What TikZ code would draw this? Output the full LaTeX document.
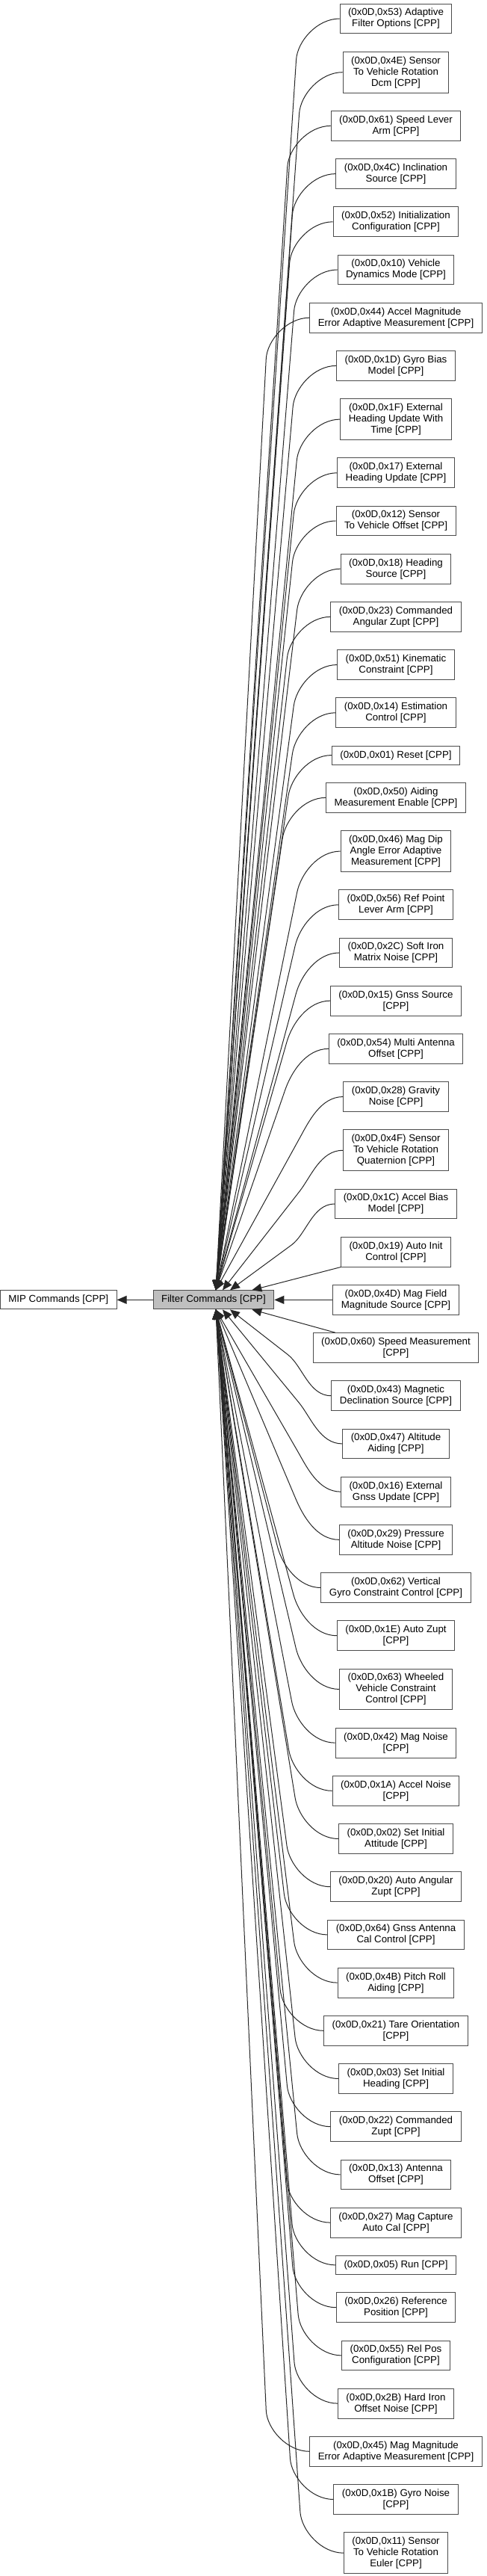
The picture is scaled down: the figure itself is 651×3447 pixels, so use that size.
\documentclass[tikz,border=0pt]{standalone}
\usepackage{fontspec}
\setmainfont{Liberation Sans}
\usetikzlibrary{arrows.meta,positioning,calc}

\begin{document}
\begin{tikzpicture}[x=1pt,y=1pt,node distance=23.4pt,font=\fontsize{13.3}{15}\selectfont,
  box/.style={draw=black!70,line width=1pt,align=center,inner xsep=11pt,inner ysep=6.2pt,minimum height=25pt},
  link/.style={-{Triangle[length=13pt,width=11pt]},line width=1pt,draw=black!85},
  fan/.style={to path={.. controls +(-30,0) and ($($(\tikztostart)+(-58,#1)$)!-25pt!(\tikztotarget)$) .. ($(\tikztostart)+(-58,#1)$) -- (\tikztotarget)}}]
\useasboundingbox (0,0) rectangle (651,-3447);
\node[box] (f53) at (530,-25) {(0x0D,0x53) Adaptive\\Filter Options [CPP]};
\node[box,below=of f53] (f4e) {(0x0D,0x4E) Sensor\\To Vehicle Rotation\\Dcm [CPP]};
\node[box,below=of f4e] (f61) {(0x0D,0x61) Speed Lever\\Arm [CPP]};
\node[box,below=of f61] (f4c) {(0x0D,0x4C) Inclination\\Source [CPP]};
\node[box,below=of f4c] (f52) {(0x0D,0x52) Initialization\\Configuration [CPP]};
\node[box,below=of f52] (f10) {(0x0D,0x10) Vehicle\\Dynamics Mode [CPP]};
\node[box,below=of f10] (f44) {(0x0D,0x44) Accel Magnitude\\Error Adaptive Measurement [CPP]};
\node[box,below=of f44] (f1d) {(0x0D,0x1D) Gyro Bias\\Model [CPP]};
\node[box,below=of f1d] (f1f) {(0x0D,0x1F) External\\Heading Update With\\Time [CPP]};
\node[box,below=of f1f] (f17) {(0x0D,0x17) External\\Heading Update [CPP]};
\node[box,below=of f17] (f12) {(0x0D,0x12) Sensor\\To Vehicle Offset [CPP]};
\node[box,below=of f12] (f18) {(0x0D,0x18) Heading\\Source [CPP]};
\node[box,below=of f18] (f23) {(0x0D,0x23) Commanded\\Angular Zupt [CPP]};
\node[box,below=of f23] (f51) {(0x0D,0x51) Kinematic\\Constraint [CPP]};
\node[box,below=of f51] (f14) {(0x0D,0x14) Estimation\\Control [CPP]};
\node[box,below=of f14] (f01) {(0x0D,0x01) Reset [CPP]};
\node[box,below=of f01] (f50) {(0x0D,0x50) Aiding\\Measurement Enable [CPP]};
\node[box,below=of f50] (f46) {(0x0D,0x46) Mag Dip\\Angle Error Adaptive\\Measurement [CPP]};
\node[box,below=of f46] (f56) {(0x0D,0x56) Ref Point\\Lever Arm [CPP]};
\node[box,below=of f56] (f2c) {(0x0D,0x2C) Soft Iron\\Matrix Noise [CPP]};
\node[box,below=of f2c] (f15) {(0x0D,0x15) Gnss Source\\{[CPP]}};
\node[box,below=of f15] (f54) {(0x0D,0x54) Multi Antenna\\Offset [CPP]};
\node[box,below=of f54] (f28) {(0x0D,0x28) Gravity\\Noise [CPP]};
\node[box,below=of f28] (f4f) {(0x0D,0x4F) Sensor\\To Vehicle Rotation\\Quaternion [CPP]};
\node[box,below=of f4f] (f1c) {(0x0D,0x1C) Accel Bias\\Model [CPP]};
\node[box,below=of f1c] (f19) {(0x0D,0x19) Auto Init\\Control [CPP]};
\node[box,below=of f19] (f4d) {(0x0D,0x4D) Mag Field\\Magnitude Source [CPP]};
\node[box,below=of f4d] (f60) {(0x0D,0x60) Speed Measurement\\{[CPP]}};
\node[box,below=of f60] (f43) {(0x0D,0x43) Magnetic\\Declination Source [CPP]};
\node[box,below=of f43] (f47) {(0x0D,0x47) Altitude\\Aiding [CPP]};
\node[box,below=of f47] (f16) {(0x0D,0x16) External\\Gnss Update [CPP]};
\node[box,below=of f16] (f29) {(0x0D,0x29) Pressure\\Altitude Noise [CPP]};
\node[box,below=of f29] (f62) {(0x0D,0x62) Vertical\\Gyro Constraint Control [CPP]};
\node[box,below=of f62] (f1e) {(0x0D,0x1E) Auto Zupt\\{[CPP]}};
\node[box,below=of f1e] (f63) {(0x0D,0x63) Wheeled\\Vehicle Constraint\\Control [CPP]};
\node[box,below=of f63] (f42) {(0x0D,0x42) Mag Noise\\{[CPP]}};
\node[box,below=of f42] (f1a) {(0x0D,0x1A) Accel Noise\\{[CPP]}};
\node[box,below=of f1a] (f02) {(0x0D,0x02) Set Initial\\Attitude [CPP]};
\node[box,below=of f02] (f20) {(0x0D,0x20) Auto Angular\\Zupt [CPP]};
\node[box,below=of f20] (f64) {(0x0D,0x64) Gnss Antenna\\Cal Control [CPP]};
\node[box,below=of f64] (f4b) {(0x0D,0x4B) Pitch Roll\\Aiding [CPP]};
\node[box,below=of f4b] (f21) {(0x0D,0x21) Tare Orientation\\{[CPP]}};
\node[box,below=of f21] (f03) {(0x0D,0x03) Set Initial\\Heading [CPP]};
\node[box,below=of f03] (f22) {(0x0D,0x22) Commanded\\Zupt [CPP]};
\node[box,below=of f22] (f13) {(0x0D,0x13) Antenna\\Offset [CPP]};
\node[box,below=of f13] (f27) {(0x0D,0x27) Mag Capture\\Auto Cal [CPP]};
\node[box,below=of f27] (f05) {(0x0D,0x05) Run [CPP]};
\node[box,below=of f05] (f26) {(0x0D,0x26) Reference\\Position [CPP]};
\node[box,below=of f26] (f55) {(0x0D,0x55) Rel Pos\\Configuration [CPP]};
\node[box,below=of f55] (f2b) {(0x0D,0x2B) Hard Iron\\Offset Noise [CPP]};
\node[box,below=of f2b] (f45) {(0x0D,0x45) Mag Magnitude\\Error Adaptive Measurement [CPP]};
\node[box,below=of f45] (f1b) {(0x0D,0x1B) Gyro Noise\\{[CPP]}};
\node[box,below=of f1b] (f11) {(0x0D,0x11) Sensor\\To Vehicle Rotation\\Euler [CPP]};
\node[box,fill=black!25,left=78pt of f4d] (filter) {Filter Commands [CPP]};
\node[box,left=48pt of filter] (mip) {MIP Commands [CPP]};
\coordinate (ftop) at ($(filter.north)+(3,0)$);
\coordinate (fbot) at ($(filter.south)+(3,0)$);
\draw[link] (filter) -- (mip); \draw[link] (f4d) -- (filter);
\draw[link,fan=-55] (f53.west) to (ftop); \draw[link,fan=-55] (f4e.west) to (ftop); \draw[link,fan=-55] (f61.west) to (ftop);
\draw[link,fan=-55] (f4c.west) to (ftop); \draw[link,fan=-55] (f52.west) to (ftop); \draw[link,fan=-55] (f10.west) to (ftop);
\draw[link,fan=-55] (f44.west) to (ftop); \draw[link,fan=-55] (f1d.west) to (ftop); \draw[link,fan=-55] (f1f.west) to (ftop);
\draw[link,fan=-55] (f17.west) to (ftop); \draw[link,fan=-55] (f12.west) to (ftop); \draw[link,fan=-55] (f18.west) to (ftop);
\draw[link,fan=-55] (f23.west) to (ftop); \draw[link,fan=-55] (f51.west) to (ftop); \draw[link,fan=-55] (f14.west) to (ftop);
\draw[link,fan=-55] (f01.west) to (ftop); \draw[link,fan=-55] (f50.west) to (ftop); \draw[link,fan=-55] (f46.west) to (ftop);
\draw[link,fan=-55] (f56.west) to (ftop); \draw[link,fan=-55] (f2c.west) to (ftop); \draw[link,fan=-55] (f15.west) to (ftop);
\draw[link,fan=-55] (f54.west) to (ftop); \draw[link,fan=-55] (f28.west) to (ftop); \draw[link,fan=-55] (f4f.west) to ($(ftop)+(9,0)$);
\draw[link,fan=-55] (f1c.west) to ($(ftop)+(19,0)$);
\draw[link] (f19.south west) -- ($(filter.north east)+(-30,0)$);
\draw[link] ($(f60.north west)+(30,0)$) -- ($(filter.south east)+(-30,0)$);
\draw[link,fan=55] (f43.west) to ($(fbot)+(19,0)$);
\draw[link,fan=55] (f47.west) to ($(fbot)+(9,0)$); \draw[link,fan=55] (f16.west) to (fbot); \draw[link,fan=55] (f29.west) to (fbot);
\draw[link,fan=55] (f62.west) to (fbot); \draw[link,fan=55] (f1e.west) to (fbot); \draw[link,fan=55] (f63.west) to (fbot);
\draw[link,fan=55] (f42.west) to (fbot); \draw[link,fan=55] (f1a.west) to (fbot); \draw[link,fan=55] (f02.west) to (fbot);
\draw[link,fan=55] (f20.west) to (fbot); \draw[link,fan=55] (f64.west) to (fbot); \draw[link,fan=55] (f4b.west) to (fbot);
\draw[link,fan=55] (f21.west) to (fbot); \draw[link,fan=55] (f03.west) to (fbot); \draw[link,fan=55] (f22.west) to (fbot);
\draw[link,fan=55] (f13.west) to (fbot); \draw[link,fan=55] (f27.west) to (fbot); \draw[link,fan=55] (f05.west) to (fbot);
\draw[link,fan=55] (f26.west) to (fbot); \draw[link,fan=55] (f55.west) to (fbot); \draw[link,fan=55] (f2b.west) to (fbot);
\draw[link,fan=55] (f45.west) to (fbot); \draw[link,fan=55] (f1b.west) to (fbot); \draw[link,fan=55] (f11.west) to (fbot);
\end{tikzpicture}
\end{document}
